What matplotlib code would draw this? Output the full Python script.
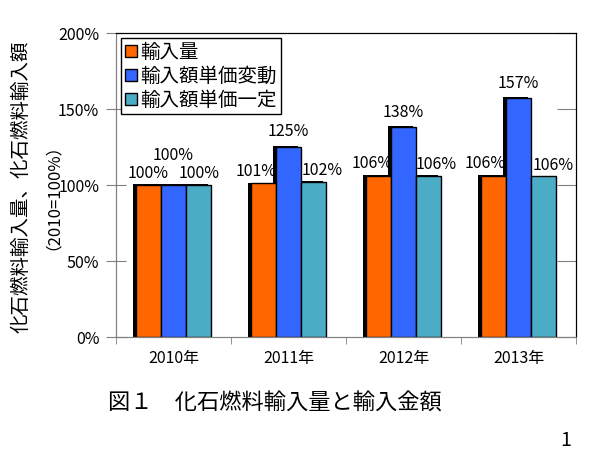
import numpy as np
import matplotlib.pyplot as plt
from matplotlib import font_manager
from matplotlib.patches import Patch

plt.rcParams['font.family'] = ['Noto Sans CJK JP', 'DejaVu Sans']

years = ['2010年', '2011年', '2012年', '2013年']
series_names = ['輸入量', '輸入額単価変動', '輸入額単価一定']
volume = [100, 101, 106, 106]
value_var = [100, 125, 138, 157]
value_fixed = [100, 102, 106, 105.6]
labels_volume = ['100%', '101%', '106%', '106%']
labels_var = ['100%', '125%', '138%', '157%']
labels_fixed = ['100%', '102%', '106%', '106%']
colors = ['#FF6600', '#3366FF', '#4BACC6']

# narrow font for the numbers, if there is one
names = set(f.name for f in font_manager.fontManager.ttflist)
if 'Liberation Sans Narrow' in names:
    num_font = ['Liberation Sans Narrow', 'Noto Sans CJK JP']
    num_size = 13
else:
    num_font = ['Noto Sans CJK JP']
    num_size = 11.5

fig = plt.figure(figsize=(5.99, 4.54), dpi=100)
ax = fig.add_axes([116 / 599, 1 - 337 / 454, 460 / 599, 304 / 454])

x = np.arange(len(years))
w = 0.22
px = 1 / 115  # one pixel in x data units

# dark shadow behind every bar, shifted a little to the left
for i, vals in enumerate([volume, value_var, value_fixed]):
    ax.bar(x + (i - 1) * w - 3 * px, np.array(vals) + 0.6, w,
           color='black', linewidth=0, zorder=1)
for i, vals in enumerate([volume, value_var, value_fixed]):
    ax.bar(x + (i - 1) * w, vals, w, color=colors[i],
           edgecolor='black', linewidth=1.0, zorder=2)

# value labels (pixel offsets from bar top)
dx_side = [0, 7, 6, 8]
for j in range(len(years)):
    ax.annotate(labels_volume[j], (x[j] - w, volume[j]),
                xytext=(-dx_side[j] * 0.72, 12 * 0.72), textcoords='offset points',
                ha='center', va='center', fontsize=num_size, family=num_font, zorder=5)
    dy = 30 if j == 0 else 15
    ax.annotate(labels_var[j], (x[j], value_var[j]),
                xytext=(0, dy * 0.72), textcoords='offset points',
                ha='center', va='center', fontsize=num_size, family=num_font, zorder=5)
    ax.annotate(labels_fixed[j], (x[j] + w, value_fixed[j]),
                xytext=(dx_side[j] * 1.2 * 0.72, 11 * 0.72), textcoords='offset points',
                ha='center', va='center', fontsize=num_size, family=num_font, zorder=5)

ax.set_xlim(-0.5, len(years) - 0.5)
ax.set_ylim(0, 200)
ax.set_yticks([0, 50, 100, 150, 200])
ax.set_yticklabels(['0%', '50%', '100%', '150%', '200%'], family=num_font, fontsize=num_size)
ax.set_xticks(x)
ax.set_xticklabels(years, fontsize=num_size, family=num_font)
ax.set_xticks(np.arange(len(years) + 1) - 0.5, minor=True)
ax.tick_params(axis='x', which='major', length=0, pad=9)
ax.tick_params(axis='x', which='minor', length=5, color='#808080', direction='out')
ax.tick_params(axis='y', which='major', direction='inout', length=14, color='#808080',
               pad=5)

# short inward ticks on the right side
ax2 = ax.twinx()
ax2.set_ylim(0, 200)
ax2.set_yticks([0, 50, 100, 150, 200])
ax2.set_yticklabels([])
ax2.tick_params(axis='y', direction='in', length=14, color='#808080')

for a in [ax, ax2]:
    for s in ['left', 'bottom']:
        a.spines[s].set_color('#808080')
    for s in ['top', 'right']:
        a.spines[s].set_color('black')

handles = [Patch(facecolor=c, edgecolor='black', linewidth=1) for c in colors]
ax2.legend(handles, series_names, loc='upper left', bbox_to_anchor=(0.011, 0.984),
           borderaxespad=0, fancybox=False, edgecolor='black', framealpha=1,
           fontsize=14, handlelength=0.6, handleheight=0.6, handletextpad=0.2,
           labelspacing=0.15, borderpad=0.2)

fig.text(21 / 599, 1 - 187 / 454, '化石燃料輸入量、化石燃料輸入額', rotation=90,
         ha='center', va='center', fontsize=14)
fig.text(44 / 599, 1 - 188 / 454, '（2010=100%）', rotation=90,
         ha='center', va='center', fontsize=12)
fig.text(108 / 599, 1 - 403 / 454, '図１　化石燃料輸入量と輸入金額',
         ha='left', va='center', fontsize=16)
fig.text(566 / 599, 1 - 440 / 454, '1', ha='center', va='center', fontsize=14)

fig.savefig('out.png', dpi=100)
